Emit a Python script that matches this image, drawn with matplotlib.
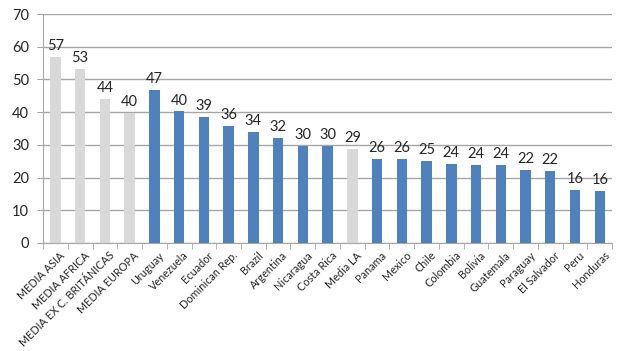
import numpy as np
import matplotlib.pyplot as plt

categories = ['MEDIA ASIA', 'MEDIA AFRICA', 'MEDIA EX C. BRITÁNICAS', 'MEDIA EUROPA',
              'Uruguay', 'Venezuela', 'Ecuador', 'Dominican Rep.', 'Brazil', 'Argentina',
              'Nicaragua', 'Costa Rica', 'Media LA', 'Panama', 'Mexico', 'Chile',
              'Colombia', 'Bolivia', 'Guatemala', 'Paraguay', 'El Salvador', 'Peru', 'Honduras']
values = [56.9, 53.2, 43.9, 39.8, 46.8, 40.2, 38.6, 35.7, 34.0, 32.2, 29.7, 29.7,
          28.6, 25.7, 25.7, 25.0, 24.2, 23.8, 23.8, 22.2, 21.9, 16.3, 15.9]
labels = [57, 53, 44, 40, 47, 40, 39, 36, 34, 32, 30, 30, 29, 26, 26, 25, 24, 24, 24, 22, 22, 16, 16]
is_average = [True, True, True, True, False, False, False, False, False, False, False, False,
              True, False, False, False, False, False, False, False, False, False, False]

plt.rcParams['font.family'] = ['Lato', 'DejaVu Sans']

fig = plt.figure(figsize=(6.24, 3.51), dpi=100)
ax = fig.add_axes([0.069, 0.308, 0.912, 0.652])

x = np.arange(len(categories))
colors = ['#D9D9D9' if a else '#4F81BD' for a in is_average]
ax.bar(x, values, width=0.42, color=colors, zorder=3)

for xi, v, lab in zip(x, values, labels):
    ax.text(xi, v + 1.2, str(lab), ha='center', va='bottom', fontsize=10.5, color='#262626')

ax.set_ylim(0, 70)
ax.set_xlim(-0.5, len(categories) - 0.5)
ax.set_yticks(range(0, 71, 10))
ax.yaxis.grid(True, color='#A6A6A6', linewidth=1.0, zorder=0)

ax.set_xticks(x + 0.15)
ax.set_xticklabels(categories, rotation=45, ha='right', rotation_mode='anchor',
                   fontsize=7.8, color='#262626')
ax.tick_params(axis='x', which='major', length=0, pad=5)
ax.set_xticks(np.arange(-0.5, len(categories), 1), minor=True)
ax.tick_params(axis='x', which='minor', length=4, color='#A6A6A6', direction='out')
ax.tick_params(axis='y', length=4, color='#A6A6A6', labelsize=10.5, labelcolor='#262626', pad=6)

for s in ['top', 'right']:
    ax.spines[s].set_visible(False)
ax.spines['left'].set_color('#A6A6A6')
ax.spines['bottom'].set_color('#A6A6A6')

fig.savefig('out.png', dpi=100)
